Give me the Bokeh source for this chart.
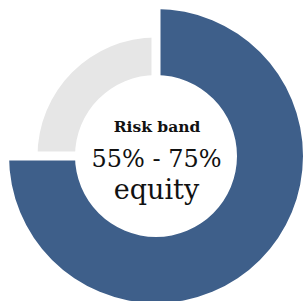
import numpy as np
from bokeh.plotting import figure
from bokeh.models import Range1d
from bokeh.core.properties import value
from bokeh.embed import file_html
from bokeh.resources import INLINE

# ---- data ----
segments = ["Equity", "Other"]
shares = [75, 25]
seg_colors = ["#3E5F8A", "#E6E6E6"]
outer_radii = [147, 118.5]
label_lines = ["Risk band", "55% - 75%", "equity"]

# ---- geometry ----
inner_r = 81
total = float(sum(shares))
sweeps = [s / total * 2 * np.pi for s in shares]
# start at 12 o'clock, go clockwise
ends = [np.pi / 2]
for sw in sweeps:
    ends.append(ends[-1] - sw)
starts_cw = ends[:-1]
ends_cw = ends[1:]

p = figure(width=304, height=301, output_backend="svg", toolbar_location=None,
           x_range=Range1d(-155.5, 148.5), y_range=Range1d(-145.5, 155.5),
           min_border=0)
p.axis.visible = False
p.grid.visible = False
p.outline_line_color = None
p.background_fill_color = "white"
p.border_fill_color = "white"

for i in range(len(shares)):
    p.annular_wedge(x=0, y=0, inner_radius=inner_r, outer_radius=outer_radii[i],
                    start_angle=ends_cw[i], end_angle=starts_cw[i],
                    direction="anticlock", color=seg_colors[i], line_color=None)

# white gaps along segment boundaries
bR = max(outer_radii) + 5
bx1 = [bR * np.cos(a) for a in ends[:-1]]
by1 = [bR * np.sin(a) for a in ends[:-1]]
p.segment(x0=[0] * len(bx1), y0=[0] * len(bx1), x1=bx1, y1=by1,
          line_color="white", line_width=9, line_cap="butt")

fonts = value("DejaVu Serif")
p.text(x=[1], y=[30], text=[label_lines[0]], text_font=fonts,
       text_font_size="15.5px", text_font_style="bold", text_align="center",
       text_baseline="alphabetic", text_color="#111111")
p.text(x=[0.5], y=[-3], text=[label_lines[1]], text_font=fonts,
       text_font_size="24px", text_align="center",
       text_baseline="alphabetic", text_color="#111111")
p.text(x=[0.5], y=[-33.5], text=[label_lines[2]], text_font=fonts,
       text_font_size="27px", text_align="center",
       text_baseline="alphabetic", text_color="#111111")

open("out.html", "w").write(file_html(p, INLINE))
